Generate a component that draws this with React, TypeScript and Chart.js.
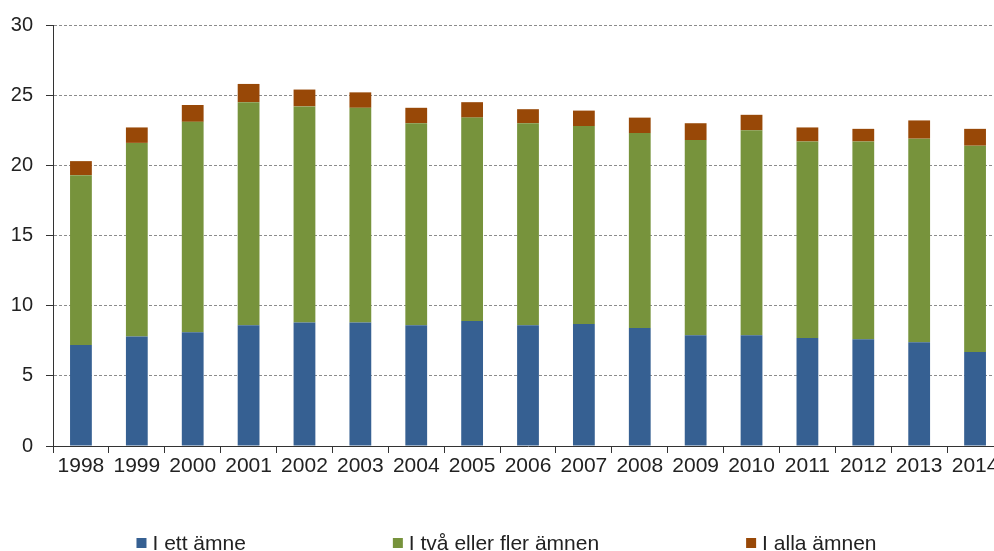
import React, { useEffect, useRef } from "react";
import { Chart, registerables } from "chart.js";

Chart.register(...registerables);

const categories = ["1998", "1999", "2000", "2001", "2002", "2003", "2004", "2005", "2006", "2007", "2008", "2009", "2010", "2011", "2012", "2013", "2014"];
const ettAmne = [7.2, 7.8, 8.1, 8.6, 8.8, 8.8, 8.6, 8.9, 8.6, 8.7, 8.4, 7.9, 7.9, 7.7, 7.6, 7.4, 6.7];
const tvaEllerFler = [12.1, 13.8, 15.0, 15.9, 15.4, 15.3, 14.4, 14.5, 14.4, 14.1, 13.9, 13.9, 14.6, 14.0, 14.1, 14.5, 14.7];
const allaAmnen = [1.0, 1.1, 1.2, 1.3, 1.2, 1.1, 1.1, 1.1, 1.0, 1.1, 1.1, 1.2, 1.1, 1.0, 0.9, 1.3, 1.2];
const yTicks = [0, 5, 10, 15, 20, 25, 30];

const FONT = '"Liberation Sans", Arial, sans-serif';

const legendPlugin = {
  id: "bottomLegend",
  afterDraw(chart: any) {
    const ctx = chart.ctx as CanvasRenderingContext2D;
    ctx.save();
    ctx.font = `21px ${FONT}`;
    const box = 10;
    const gap = 6;
    const itemGap = 147;
    const items = chart.data.datasets.map((ds: any) => ({
      text: ds.label as string,
      color: ds.backgroundColor as string,
      w: ctx.measureText(ds.label).width,
    }));
    const total =
      items.reduce((s: number, it: any) => s + box + gap + it.w, 0) + itemGap * (items.length - 1);
    let x = 506.5 - total / 2;
    const y = 543;
    ctx.textBaseline = "middle";
    ctx.textAlign = "left";
    items.forEach((it: any) => {
      ctx.fillStyle = it.color;
      ctx.fillRect(x, y - box / 2, box, box);
      x += box + gap;
      ctx.fillStyle = "#222";
      ctx.fillText(it.text, x, y + 1);
      x += it.w + itemGap;
    });
    ctx.restore();
  },
};

export default function App() {
  const ref = useRef<HTMLCanvasElement>(null);

  useEffect(() => {
    if (!ref.current) return;
    const chart = new Chart(ref.current, {
      type: "bar",
      data: {
        labels: categories,
        datasets: [
          { label: "I ett ämne", data: ettAmne, backgroundColor: "#366092" },
          { label: "I två eller fler ämnen", data: tvaEllerFler, backgroundColor: "#77933C" },
          { label: "I alla ämnen", data: allaAmnen, backgroundColor: "#984807" },
        ],
      },
      options: {
        animation: false,
        responsive: false,
        devicePixelRatio: 1,
        layout: { padding: { top: 23, left: 0, right: 7, bottom: 65 } },
        datasets: { bar: { categoryPercentage: 1, barPercentage: 0.39, borderWidth: 0 } },
        plugins: {
          legend: { display: false },
          tooltip: { enabled: false },
        },
        scales: {
          x: {
            stacked: true,
            offset: true,
            grid: {
              display: true,
              drawOnChartArea: false,
              drawTicks: true,
              offset: true,
              tickLength: 7,
              tickColor: "#333",
              tickWidth: 1,
            },
            border: { display: true, color: "#333", width: 1 },
            ticks: {
              color: "#222",
              font: { family: FONT, size: 21 },
              padding: 1,
              maxRotation: 0,
              autoSkip: false,
            },
            afterFit(scale: any) {
              scale.height = 40;
            },
          },
          y: {
            stacked: true,
            min: 0,
            max: 30,
            afterBuildTicks(scale: any) {
              scale.ticks = yTicks.map((v) => ({ value: v }));
            },
            grid: {
              color: (c: any) => (c.tick && c.tick.value === 0 ? "rgba(0,0,0,0)" : "#8c8c8c"),
              lineWidth: 1,
              drawTicks: true,
              tickLength: 7,
              tickColor: "#333",
            },
            border: { display: true, color: "#333", width: 1, dash: [3, 2] },
            ticks: {
              color: "#222",
              font: { family: FONT, size: 20 },
              padding: 13,
            },
            afterFit(scale: any) {
              scale.width = 53;
            },
          },
        },
      },
      plugins: [legendPlugin],
    });
    return () => chart.destroy();
  }, []);

  return (
    <div
      style={{
        position: "fixed",
        left: 0,
        top: 0,
        width: 994,
        height: 551,
        overflow: "hidden",
        background: "#fff",
      }}
    >
      <canvas ref={ref} width={1010} height={551} style={{ display: "block" }} />
    </div>
  );
}
